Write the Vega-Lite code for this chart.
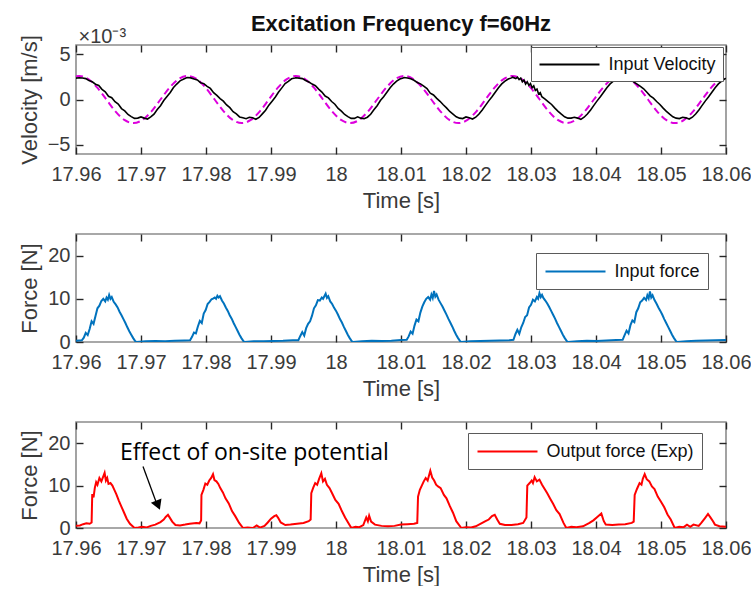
{
  "$schema": "https://vega.github.io/schema/vega-lite/v6.json",
  "background": "white",
  "padding": {"left": 17, "top": 12, "right": 0, "bottom": 0},
  "bounds": "flush",
  "spacing": 80,
  "config": {
    "font": "Liberation Sans",
    "view": {"stroke": "#8c8c8c", "strokeWidth": 1.6},
    "axis": {
      "domain": false, "grid": false, "ticks": true, "tickSize": -7, "tickColor": "#262626", "tickWidth": 1.4, "zindex": 1,
      "labelFlush": false, "labelOverlap": false,
      "labelFont": "Liberation Sans", "labelFontSize": 20, "labelColor": "#3a3a3a",
      "titleFont": "Liberation Sans", "titleFontSize": 22, "titleFontWeight": "normal", "titleColor": "#3a3a3a"
    },
    "legend": {
      "orient": "none", "strokeColor": "#5a5a5a", "fillColor": "white", "padding": 6,
      "symbolType": "M-1,0H5.667", "symbolSize": 324, "symbolStrokeWidth": 2.2, "labelOffset": 49.5,
      "labelFont": "Liberation Sans", "labelFontSize": 18, "labelColor": "#111111",
      "cornerRadius": 0
    }
  },
  "datasets": {
    "vel": [
      {"t":17.96,"v":2.35},
      {"t":17.9605,"v":2.40},{"t":17.961,"v":2.36},{"t":17.9615,"v":2.30},{"t":17.962,"v":2.08},{"t":17.9625,"v":1.95},{"t":17.963,"v":1.68},{"t":17.9635,"v":1.55},{"t":17.964,"v":1.12},{"t":17.9645,"v":0.85},{"t":17.965,"v":0.35},{"t":17.9655,"v":0.20},{"t":17.966,"v":-0.25},{"t":17.9665,"v":-0.50},{"t":17.967,"v":-1.00},{"t":17.9675,"v":-1.25},{"t":17.968,"v":-1.65},{"t":17.9685,"v":-1.88},{"t":17.969,"v":-2.08},{"t":17.9695,"v":-2.05},{"t":17.97,"v":-1.92},{"t":17.9705,"v":-2.05},{"t":17.971,"v":-2.15},{"t":17.9715,"v":-1.92},{"t":17.972,"v":-1.62},{"t":17.9725,"v":-1.10},{"t":17.973,"v":-0.68},{"t":17.9735,"v":-0.12},{"t":17.974,"v":0.32},{"t":17.9745,"v":0.78},{"t":17.975,"v":1.32},{"t":17.9755,"v":1.70},{"t":17.976,"v":2.05},{"t":17.9765,"v":2.22},{"t":17.977,"v":2.40},
      {"t":17.97717,"v":2.42},{"t":17.97767,"v":2.38},{"t":17.97817,"v":2.25},{"t":17.97867,"v":2.15},{"t":17.97917,"v":1.85},{"t":17.97967,"v":1.75},{"t":17.98017,"v":1.45},{"t":17.98067,"v":1.22},{"t":17.98117,"v":0.75},{"t":17.98167,"v":0.45},{"t":17.98217,"v":0.10},{"t":17.98267,"v":-0.18},{"t":17.98317,"v":-0.60},{"t":17.98367,"v":-0.90},{"t":17.98417,"v":-1.35},{"t":17.98467,"v":-1.58},{"t":17.98517,"v":-1.92},{"t":17.98567,"v":-2.02},{"t":17.98617,"v":-2.12},{"t":17.98667,"v":-1.96},{"t":17.98717,"v":-2.00},{"t":17.98767,"v":-2.18},{"t":17.98817,"v":-1.98},{"t":17.98867,"v":-1.58},{"t":17.98917,"v":-1.18},{"t":17.98967,"v":-0.62},{"t":17.99017,"v":-0.18},{"t":17.99067,"v":0.28},{"t":17.99117,"v":0.82},{"t":17.99167,"v":1.28},{"t":17.99217,"v":1.75},{"t":17.99267,"v":2.00},{"t":17.99317,"v":2.28},{"t":17.99367,"v":2.36},
      {"t":17.99383,"v":2.40},{"t":17.99433,"v":2.35},{"t":17.99483,"v":2.30},{"t":17.99533,"v":2.10},{"t":17.99583,"v":1.92},{"t":17.99633,"v":1.70},{"t":17.99683,"v":1.52},{"t":17.99733,"v":1.15},{"t":17.99783,"v":0.82},{"t":17.99833,"v":0.38},{"t":17.99883,"v":0.18},{"t":17.99933,"v":-0.22},{"t":17.99983,"v":-0.52},{"t":18.00033,"v":-0.98},{"t":18.00083,"v":-1.28},{"t":18.00133,"v":-1.65},{"t":18.00183,"v":-1.88},{"t":18.00233,"v":-2.08},{"t":18.00283,"v":-2.08},{"t":18.00333,"v":-1.90},{"t":18.00383,"v":-2.05},{"t":18.00433,"v":-2.12},{"t":18.00483,"v":-1.95},{"t":18.00533,"v":-1.62},{"t":18.00583,"v":-1.12},{"t":18.00633,"v":-0.68},{"t":18.00683,"v":-0.12},{"t":18.00733,"v":0.30},{"t":18.00783,"v":0.80},{"t":18.00833,"v":1.30},{"t":18.00883,"v":1.70},{"t":18.00933,"v":2.02},{"t":18.00983,"v":2.25},{"t":18.01033,"v":2.38},
      {"t":18.0105,"v":2.42},{"t":18.011,"v":2.36},{"t":18.0115,"v":2.28},{"t":18.012,"v":2.12},{"t":18.0125,"v":1.88},{"t":18.013,"v":1.72},{"t":18.0135,"v":1.48},{"t":18.014,"v":1.20},{"t":18.0145,"v":0.70},{"t":18.015,"v":0.50},{"t":18.0155,"v":0.12},{"t":18.016,"v":-0.20},{"t":18.0165,"v":-0.58},{"t":18.017,"v":-0.92},{"t":18.0175,"v":-1.32},{"t":18.018,"v":-1.60},{"t":18.0185,"v":-1.90},{"t":18.019,"v":-2.05},{"t":18.0195,"v":-2.10},{"t":18.02,"v":-1.92},{"t":18.0205,"v":-2.00},{"t":18.021,"v":-2.15},{"t":18.0215,"v":-1.95},{"t":18.022,"v":-1.60},{"t":18.0225,"v":-1.15},{"t":18.023,"v":-0.65},{"t":18.0235,"v":-0.15},{"t":18.024,"v":0.30},{"t":18.0245,"v":0.80},{"t":18.025,"v":1.30},{"t":18.0255,"v":1.72},{"t":18.026,"v":2.02},{"t":18.0265,"v":2.25},{"t":18.027,"v":2.38},
      {"t":18.02717,"v":2.45},{"t":18.02767,"v":2.30},{"t":18.02792,"v":2.45},{"t":18.02817,"v":2.20},{"t":18.02842,"v":2.35},{"t":18.02867,"v":1.95},{"t":18.02892,"v":2.15},{"t":18.02917,"v":1.70},{"t":18.02942,"v":1.95},{"t":18.02967,"v":1.55},{"t":18.02992,"v":1.75},{"t":18.03017,"v":1.30},{"t":18.03042,"v":1.50},{"t":18.03067,"v":1.00},{"t":18.03092,"v":1.15},{"t":18.03117,"v":0.60},{"t":18.03142,"v":0.75},{"t":18.03167,"v":0.30},{"t":18.03217,"v":0.05},{"t":18.03267,"v":-0.25},{"t":18.03317,"v":-0.55},{"t":18.03367,"v":-0.95},{"t":18.03417,"v":-1.30},{"t":18.03467,"v":-1.62},{"t":18.03517,"v":-1.90},{"t":18.03567,"v":-2.05},{"t":18.03617,"v":-2.05},{"t":18.03667,"v":-1.95},{"t":18.03717,"v":-2.05},{"t":18.03767,"v":-2.18},{"t":18.03817,"v":-1.95},{"t":18.03867,"v":-1.60},{"t":18.03917,"v":-1.15},{"t":18.03967,"v":-0.65},{"t":18.04017,"v":-0.15},{"t":18.04067,"v":0.30},{"t":18.04117,"v":0.80},{"t":18.04167,"v":1.30},{"t":18.04217,"v":1.72},{"t":18.04267,"v":2.02},{"t":18.04317,"v":2.22},{"t":18.04367,"v":2.30},
      {"t":18.04383,"v":2.32},{"t":18.04433,"v":2.30},{"t":18.04483,"v":2.28},{"t":18.04533,"v":2.18},{"t":18.04583,"v":1.92},{"t":18.04633,"v":1.70},{"t":18.04683,"v":1.45},{"t":18.04733,"v":1.18},{"t":18.04783,"v":0.80},{"t":18.04833,"v":0.40},{"t":18.04883,"v":0.15},{"t":18.04933,"v":-0.22},{"t":18.04983,"v":-0.55},{"t":18.05033,"v":-0.95},{"t":18.05083,"v":-1.30},{"t":18.05133,"v":-1.62},{"t":18.05183,"v":-1.90},{"t":18.05233,"v":-2.05},{"t":18.05283,"v":-2.10},{"t":18.05333,"v":-1.95},{"t":18.05383,"v":-2.02},{"t":18.05433,"v":-2.15},{"t":18.05483,"v":-1.95},{"t":18.05533,"v":-1.60},{"t":18.05583,"v":-1.15},{"t":18.05633,"v":-0.65},{"t":18.05683,"v":-0.15},{"t":18.05733,"v":0.30},{"t":18.05783,"v":0.80},{"t":18.05833,"v":1.30},{"t":18.05883,"v":1.72},{"t":18.05933,"v":2.02},{"t":18.05983,"v":2.28},{"t":18.06,"v":2.32}
    ],
    "mag": [
      {"t":17.96,"v":2.55},{"t":17.9605,"v":2.6},{"t":17.96189,"v":2.25},{"t":17.96328,"v":1.3},{"t":17.96467,"v":0},{"t":17.96606,"v":-1.3},{"t":17.96744,"v":-2.25},{"t":17.96883,"v":-2.6},{"t":17.97022,"v":-2.25},{"t":17.97161,"v":-1.3},{"t":17.973,"v":0},{"t":17.97439,"v":1.3},{"t":17.97578,"v":2.25},
      {"t":17.97717,"v":2.6},{"t":17.97856,"v":2.25},{"t":17.97994,"v":1.3},{"t":17.98133,"v":0},{"t":17.98272,"v":-1.3},{"t":17.98411,"v":-2.25},{"t":17.9855,"v":-2.6},{"t":17.98689,"v":-2.25},{"t":17.98828,"v":-1.3},{"t":17.98967,"v":0},{"t":17.99106,"v":1.3},{"t":17.99244,"v":2.25},
      {"t":17.99383,"v":2.6},{"t":17.99522,"v":2.25},{"t":17.99661,"v":1.3},{"t":17.998,"v":0},{"t":17.99939,"v":-1.3},{"t":18.00078,"v":-2.25},{"t":18.00217,"v":-2.6},{"t":18.00356,"v":-2.25},{"t":18.00494,"v":-1.3},{"t":18.00633,"v":0},{"t":18.00772,"v":1.3},{"t":18.00911,"v":2.25},
      {"t":18.0105,"v":2.6},{"t":18.01189,"v":2.25},{"t":18.01328,"v":1.3},{"t":18.01467,"v":0},{"t":18.01606,"v":-1.3},{"t":18.01744,"v":-2.25},{"t":18.01883,"v":-2.6},{"t":18.02022,"v":-2.25},{"t":18.02161,"v":-1.3},{"t":18.023,"v":0},{"t":18.02439,"v":1.3},{"t":18.02578,"v":2.25},
      {"t":18.02717,"v":2.6},{"t":18.02856,"v":2.25},{"t":18.02994,"v":1.3},{"t":18.03133,"v":0},{"t":18.03272,"v":-1.3},{"t":18.03411,"v":-2.25},{"t":18.0355,"v":-2.6},{"t":18.03689,"v":-2.25},{"t":18.03828,"v":-1.3},{"t":18.03967,"v":0},{"t":18.04106,"v":1.3},{"t":18.04244,"v":2.25},
      {"t":18.04383,"v":2.6},{"t":18.04522,"v":2.25},{"t":18.04661,"v":1.3},{"t":18.048,"v":0},{"t":18.04939,"v":-1.3},{"t":18.05078,"v":-2.25},{"t":18.05217,"v":-2.6},{"t":18.05356,"v":-2.25},{"t":18.05494,"v":-1.3},{"t":18.05633,"v":0},{"t":18.05772,"v":1.3},{"t":18.05911,"v":2.25},{"t":18.0605,"v":2.6}
    ],
    "fin": [
      {"t":17.96,"f":0.3},{"t":17.9609,"f":0.4},{"t":17.9612,"f":1.0},{"t":17.9615,"f":2.1},{"t":17.9618,"f":1.6},{"t":17.9621,"f":3.0},{"t":17.9624,"f":4.8},{"t":17.9627,"f":4.2},{"t":17.963,"f":6.0},{"t":17.9633,"f":7.8},{"t":17.9636,"f":8.4},{"t":17.9639,"f":9.5},{"t":17.9642,"f":10.0},{"t":17.9645,"f":9.4},{"t":17.9647,"f":10.3},{"t":17.9649,"f":9.8},{"t":17.9651,"f":10.9},{"t":17.9653,"f":10.0},{"t":17.9655,"f":10.4},{"t":17.9658,"f":9.3},{"t":17.9661,"f":8.7},{"t":17.9664,"f":8.0},{"t":17.9667,"f":7.0},{"t":17.967,"f":6.2},{"t":17.9673,"f":5.3},{"t":17.9676,"f":4.4},{"t":17.9679,"f":3.4},{"t":17.9682,"f":2.5},{"t":17.9685,"f":1.7},{"t":17.9688,"f":0.9},{"t":17.9691,"f":0.2},{"t":17.9693,"f":0.0},{"t":17.9707,"f":0.15},{"t":17.9722,"f":0.25},{"t":17.9737,"f":0.2},{"t":17.9752,"f":0.3},{"t":17.9767,"f":0.35},
      {"t":17.97755,"f":0.4},{"t":17.97785,"f":1.2},{"t":17.97815,"f":2.2},{"t":17.97845,"f":2.0},{"t":17.97875,"f":3.6},{"t":17.97905,"f":4.9},{"t":17.97935,"f":4.4},{"t":17.97965,"f":6.6},{"t":17.97995,"f":7.4},{"t":17.98025,"f":8.8},{"t":17.98055,"f":9.3},{"t":17.98085,"f":9.9},{"t":17.98115,"f":10.1},{"t":17.98135,"f":10.3},{"t":17.98155,"f":10.0},{"t":17.98175,"f":10.7},{"t":17.98195,"f":10.3},{"t":17.98215,"f":10.6},{"t":17.98245,"f":9.6},{"t":17.98275,"f":8.9},{"t":17.98305,"f":8.0},{"t":17.98335,"f":7.2},{"t":17.98365,"f":6.2},{"t":17.98395,"f":5.4},{"t":17.98425,"f":4.4},{"t":17.98455,"f":3.5},{"t":17.98485,"f":2.6},{"t":17.98515,"f":1.7},{"t":17.98545,"f":0.9},{"t":17.98575,"f":0.2},{"t":17.98595,"f":0.0},{"t":17.98735,"f":0.2},{"t":17.98885,"f":0.15},{"t":17.99035,"f":0.25},{"t":17.99185,"f":0.3},{"t":17.99335,"f":0.4},
      {"t":17.99421,"f":0.4},{"t":17.99451,"f":1.4},{"t":17.99481,"f":2.3},{"t":17.99511,"f":1.5},{"t":17.99541,"f":3.2},{"t":17.99571,"f":4.2},{"t":17.99601,"f":4.8},{"t":17.99631,"f":6.1},{"t":17.99661,"f":7.8},{"t":17.99691,"f":8.5},{"t":17.99721,"f":9.7},{"t":17.99751,"f":9.6},{"t":17.99781,"f":10.3},{"t":17.99801,"f":10.0},{"t":17.99821,"f":10.6},{"t":17.99841,"f":11.2},{"t":17.99861,"f":10.2},{"t":17.99881,"f":10.6},{"t":17.99911,"f":9.4},{"t":17.99941,"f":8.8},{"t":17.99971,"f":7.9},{"t":18.00001,"f":7.2},{"t":18.00031,"f":6.3},{"t":18.00061,"f":5.3},{"t":18.00091,"f":4.5},{"t":18.00121,"f":3.5},{"t":18.00151,"f":2.6},{"t":18.00181,"f":1.7},{"t":18.00211,"f":0.9},{"t":18.00241,"f":0.2},{"t":18.00261,"f":0.0},{"t":18.00401,"f":0.2},{"t":18.00551,"f":0.3},{"t":18.00701,"f":0.25},{"t":18.00851,"f":0.3},{"t":18.01001,"f":0.45},
      {"t":18.01088,"f":0.5},{"t":18.01118,"f":1.3},{"t":18.01148,"f":2.4},{"t":18.01178,"f":1.9},{"t":18.01208,"f":3.8},{"t":18.01238,"f":5.2},{"t":18.01268,"f":4.8},{"t":18.01298,"f":6.8},{"t":18.01328,"f":8.2},{"t":18.01358,"f":9.2},{"t":18.01388,"f":10.0},{"t":18.01418,"f":10.4},{"t":18.01448,"f":9.8},{"t":18.01468,"f":11.0},{"t":18.01488,"f":10.2},{"t":18.01508,"f":11.8},{"t":18.01528,"f":10.5},{"t":18.01548,"f":11.0},{"t":18.01578,"f":9.8},{"t":18.01608,"f":9.0},{"t":18.01638,"f":8.2},{"t":18.01668,"f":7.3},{"t":18.01698,"f":6.4},{"t":18.01728,"f":5.4},{"t":18.01758,"f":4.5},{"t":18.01788,"f":3.6},{"t":18.01818,"f":2.6},{"t":18.01848,"f":1.7},{"t":18.01878,"f":0.9},{"t":18.01908,"f":0.2},{"t":18.01928,"f":0.0},{"t":18.02068,"f":0.2},{"t":18.02218,"f":0.25},{"t":18.02368,"f":0.3},{"t":18.02518,"f":0.35},{"t":18.02668,"f":0.4},
      {"t":18.0273,"f":0.5},{"t":18.0276,"f":1.8},{"t":18.0279,"f":2.8},{"t":18.0282,"f":1.9},{"t":18.0285,"f":3.4},{"t":18.0288,"f":4.4},{"t":18.0291,"f":5.8},{"t":18.0294,"f":6.2},{"t":18.0297,"f":8.0},{"t":18.03,"f":8.6},{"t":18.0303,"f":9.8},{"t":18.0306,"f":9.4},{"t":18.0309,"f":10.4},{"t":18.0311,"f":10.0},{"t":18.0313,"f":11.3},{"t":18.0315,"f":10.4},{"t":18.0317,"f":10.9},{"t":18.0319,"f":10.2},{"t":18.0322,"f":9.6},{"t":18.0325,"f":8.9},{"t":18.0328,"f":8.1},{"t":18.0331,"f":7.2},{"t":18.0334,"f":6.3},{"t":18.0337,"f":5.4},{"t":18.034,"f":4.4},{"t":18.0343,"f":3.5},{"t":18.0346,"f":2.6},{"t":18.0349,"f":1.7},{"t":18.0352,"f":0.9},{"t":18.0355,"f":0.2},{"t":18.0357,"f":0.0},{"t":18.0371,"f":0.2},{"t":18.0386,"f":0.3},{"t":18.0401,"f":0.25},{"t":18.0416,"f":0.35},{"t":18.0431,"f":0.45},
      {"t":18.0441,"f":0.5},{"t":18.0444,"f":1.6},{"t":18.0447,"f":2.6},{"t":18.045,"f":2.0},{"t":18.0453,"f":3.9},{"t":18.0456,"f":5.0},{"t":18.0459,"f":4.6},{"t":18.0462,"f":6.9},{"t":18.0465,"f":7.8},{"t":18.0468,"f":9.2},{"t":18.0471,"f":9.6},{"t":18.0474,"f":10.2},{"t":18.0477,"f":9.7},{"t":18.0479,"f":10.8},{"t":18.0481,"f":10.1},{"t":18.0483,"f":11.7},{"t":18.0485,"f":10.3},{"t":18.0487,"f":10.8},{"t":18.049,"f":9.7},{"t":18.0493,"f":8.9},{"t":18.0496,"f":8.0},{"t":18.0499,"f":7.2},{"t":18.0502,"f":6.3},{"t":18.0505,"f":5.3},{"t":18.0508,"f":4.4},{"t":18.0511,"f":3.5},{"t":18.0514,"f":2.6},{"t":18.0517,"f":1.7},{"t":18.052,"f":0.9},{"t":18.0523,"f":0.2},{"t":18.0525,"f":0.0},{"t":18.0539,"f":0.2},{"t":18.0554,"f":0.3},{"t":18.0569,"f":0.35},{"t":18.0584,"f":0.4},{"t":18.06,"f":0.45}
    ],
    "fout": [
      {"t":17.96,"f":0.5},{"t":17.9606,"f":0.6},{"t":17.9611,"f":0.9},{"t":17.9616,"f":1.1},{"t":17.9621,"f":1.0},{"t":17.9624,"f":1.3},{"t":17.9625,"f":8.0},{"t":17.9627,"f":7.2},{"t":17.9629,"f":9.5},{"t":17.9631,"f":10.8},{"t":17.9633,"f":10.2},{"t":17.9636,"f":11.8},{"t":17.9639,"f":11.0},{"t":17.9642,"f":12.2},{"t":17.9644,"f":13.0},{"t":17.9646,"f":11.2},{"t":17.9648,"f":11.8},{"t":17.965,"f":10.4},{"t":17.9653,"f":10.6},{"t":17.9656,"f":10.0},{"t":17.9659,"f":9.0},{"t":17.9662,"f":8.0},{"t":17.9666,"f":6.4},{"t":17.967,"f":5.0},{"t":17.9674,"f":3.6},{"t":17.9678,"f":2.2},{"t":17.9683,"f":1.0},{"t":17.969,"f":0.0},{"t":17.9696,"f":0.1},{"t":17.9702,"f":0.3},{"t":17.9708,"f":0.1},{"t":17.9715,"f":0.5},{"t":17.9722,"f":0.8},{"t":17.973,"f":1.4},{"t":17.9735,"f":2.0},{"t":17.9738,"f":2.6},{"t":17.97415,"f":3.1},{"t":17.9744,"f":2.5},{"t":17.9748,"f":1.5},{"t":17.9753,"f":0.7},{"t":17.976,"f":0.6},{"t":17.9768,"f":0.8},{"t":17.9775,"f":1.0},{"t":17.9785,"f":1.2},{"t":17.979,"f":1.1},{"t":17.97925,"f":1.8},
      {"t":17.9793,"f":7.8},{"t":17.9796,"f":9.0},{"t":17.9799,"f":10.5},{"t":17.9802,"f":10.2},{"t":17.9805,"f":11.2},{"t":17.9808,"f":11.8},{"t":17.98108,"f":12.7},{"t":17.9813,"f":11.3},{"t":17.9816,"f":11.0},{"t":17.9819,"f":10.4},{"t":17.9822,"f":9.4},{"t":17.9826,"f":8.4},{"t":17.983,"f":7.0},{"t":17.9835,"f":5.8},{"t":17.984,"f":4.0},{"t":17.9845,"f":2.8},{"t":17.9851,"f":1.2},{"t":17.9857,"f":0.0},{"t":17.9864,"f":0.1},{"t":17.9872,"f":0.0},{"t":17.9878,"f":0.6},{"t":17.9883,"f":0.1},{"t":17.989,"f":0.5},{"t":17.9895,"f":1.3},{"t":17.99,"f":2.2},{"t":17.9905,"f":2.8},{"t":17.99082,"f":3.0},{"t":17.9911,"f":2.4},{"t":17.9915,"f":1.3},{"t":17.9922,"f":0.7},{"t":17.993,"f":0.8},{"t":17.994,"f":1.0},{"t":17.995,"f":1.2},{"t":17.9958,"f":1.6},{"t":17.9961,"f":2.0},
      {"t":17.9962,"f":8.2},{"t":17.9965,"f":9.5},{"t":17.9968,"f":10.6},{"t":17.9971,"f":10.2},{"t":17.9974,"f":11.6},{"t":17.99774,"f":12.9},{"t":17.998,"f":11.0},{"t":17.9983,"f":11.6},{"t":17.9986,"f":10.2},{"t":17.999,"f":9.4},{"t":17.9994,"f":8.2},{"t":17.9999,"f":6.6},{"t":18.0004,"f":5.7},{"t":18.0009,"f":4.0},{"t":18.0014,"f":2.5},{"t":18.0019,"f":1.2},{"t":18.00236,"f":0.0},{"t":18.003,"f":0.3},{"t":18.0036,"f":0.2},{"t":18.0042,"f":0.7},{"t":18.00465,"f":2.5},{"t":18.0049,"f":1.6},{"t":18.0051,"f":2.9},{"t":18.0054,"f":1.5},{"t":18.006,"f":0.8},{"t":18.007,"f":0.5},{"t":18.008,"f":0.4},{"t":18.009,"f":0.5},{"t":18.01,"f":0.8},{"t":18.011,"f":0.9},{"t":18.012,"f":1.0},{"t":18.0125,"f":1.2},
      {"t":18.01262,"f":7.4},{"t":18.0129,"f":9.0},{"t":18.0132,"f":10.0},{"t":18.0135,"f":11.0},{"t":18.0138,"f":11.8},{"t":18.0141,"f":11.2},{"t":18.01451,"f":13.5},{"t":18.0148,"f":11.9},{"t":18.0151,"f":11.2},{"t":18.0154,"f":10.2},{"t":18.0157,"f":9.8},{"t":18.0161,"f":9.4},{"t":18.0166,"f":7.8},{"t":18.017,"f":7.0},{"t":18.0175,"f":5.2},{"t":18.018,"f":3.6},{"t":18.0185,"f":1.6},{"t":18.01928,"f":0.0},{"t":18.02,"f":0.2},{"t":18.0208,"f":0.1},{"t":18.0215,"f":0.4},{"t":18.0225,"f":1.2},{"t":18.023,"f":1.6},{"t":18.0235,"f":2.0},{"t":18.024,"f":2.8},{"t":18.02442,"f":3.1},{"t":18.0248,"f":2.0},{"t":18.0252,"f":1.0},{"t":18.026,"f":0.7},{"t":18.027,"f":0.7},{"t":18.028,"f":0.9},{"t":18.0288,"f":1.2},{"t":18.0293,"f":2.5},
      {"t":18.02943,"f":10.0},{"t":18.0298,"f":10.6},{"t":18.0301,"f":11.2},{"t":18.0303,"f":10.6},{"t":18.03056,"f":12.0},{"t":18.0309,"f":11.0},{"t":18.0313,"f":11.4},{"t":18.0317,"f":10.2},{"t":18.0321,"f":9.2},{"t":18.0325,"f":8.2},{"t":18.033,"f":6.8},{"t":18.0334,"f":5.7},{"t":18.0339,"f":4.2},{"t":18.0344,"f":3.3},{"t":18.035,"f":1.2},{"t":18.03543,"f":0.0},{"t":18.0362,"f":0.3},{"t":18.037,"f":0.2},{"t":18.038,"f":0.4},{"t":18.039,"f":1.2},{"t":18.0396,"f":1.8},{"t":18.0402,"f":2.6},{"t":18.04082,"f":3.4},{"t":18.0412,"f":1.6},{"t":18.0415,"f":0.8},{"t":18.0425,"f":0.7},{"t":18.0435,"f":0.8},{"t":18.0445,"f":0.9},{"t":18.0455,"f":1.2},{"t":18.0458,"f":1.5},
      {"t":18.04595,"f":7.8},{"t":18.0463,"f":9.2},{"t":18.0467,"f":10.6},{"t":18.047,"f":10.2},{"t":18.0472,"f":11.6},{"t":18.04749,"f":12.7},{"t":18.0478,"f":11.5},{"t":18.0482,"f":11.0},{"t":18.0486,"f":9.8},{"t":18.049,"f":9.2},{"t":18.0495,"f":7.4},{"t":18.05,"f":6.2},{"t":18.0505,"f":4.9},{"t":18.051,"f":3.2},{"t":18.0515,"f":2.0},{"t":18.05211,"f":0.0},{"t":18.0528,"f":0.3},{"t":18.0535,"f":0.2},{"t":18.054,"f":0.8},{"t":18.0545,"f":0.3},{"t":18.055,"f":0.8},{"t":18.0558,"f":0.5},{"t":18.0562,"f":1.2},{"t":18.0568,"f":2.4},{"t":18.05723,"f":3.3},{"t":18.0576,"f":2.5},{"t":18.058,"f":1.6},{"t":18.0583,"f":0.8},{"t":18.059,"f":0.4},{"t":18.06,"f":0.3}
    ],
    "note": [
      {"t":17.98746,"f":17.7,"label":"Effect of on-site potential","t2":17.97231,"f2":6.2,"t0":17.97031,"f0":14.5,"th":17.97262,"fh":5.4}
    ]
  },
  "vconcat": [
    {
      "width": 650, "height": 109,
      "title": {"text": "Excitation Frequency f=60Hz", "fontSize": 22, "fontWeight": "bold", "color": "#111111", "font": "Liberation Sans", "anchor": "middle", "offset": -10},
      "layer": [
        {
          "data": {"name": "mag"},
          "mark": {"type": "line", "color": "#dd00dd", "strokeWidth": 2, "strokeDash": [7, 4], "interpolate": "monotone", "clip": true},
          "encoding": {
            "x": {"field": "t", "type": "quantitative", "scale": {"domain": [17.96, 18.06], "nice": false, "zero": false},
                  "axis": {"orient": "bottom", "values": [17.96,17.97,17.98,17.99,18,18.01,18.02,18.03,18.04,18.05,18.06], "format": "~g", "labelPadding": 17, "title": "Time [s]", "titlePadding": 6}},
            "y": {"field": "v", "type": "quantitative", "scale": {"domain": [-6, 6], "nice": false, "zero": false},
                  "axis": {"orient": "left", "values": [-5, 0, 5], "labelPadding": 13, "title": "Velocity [m/s]", "titlePadding": 6}}
          }
        },
        {
          "data": {"name": "vel"},
          "mark": {"type": "line", "strokeWidth": 1.6, "clip": true},
          "encoding": {
            "x": {"field": "t", "type": "quantitative", "scale": {"domain": [17.96, 18.06], "nice": false, "zero": false},
                  "axis": {"orient": "top", "values": [17.96,17.97,17.98,17.99,18,18.01,18.02,18.03,18.04,18.05,18.06], "labels": false,
                           "title": "×10⁻³", "titleFontSize": 20, "titleAnchor": "start", "titleAlign": "left", "titleAngle": 0, "titleBaseline": "alphabetic", "titleX": 2, "titleY": -3}},
            "y": {"field": "v", "type": "quantitative", "scale": {"domain": [-6, 6], "nice": false, "zero": false},
                  "axis": {"orient": "right", "values": [-5, 0, 5], "labels": false, "title": null}},
            "color": {"datum": "Input Velocity", "type": "nominal", "scale": {"domain": ["Input Velocity"], "range": ["#000000"]},
                      "legend": {"title": null, "legendX": 455, "legendY": 2, "padding": 7}}
          }
        }
      ],
      "resolve": {"axis": {"x": "independent", "y": "independent"}}
    },
    {
      "width": 650, "height": 108,
      "layer": [
        {
          "data": {"name": "fin"},
          "mark": {"type": "line", "strokeWidth": 2, "clip": true},
          "encoding": {
            "x": {"field": "t", "type": "quantitative", "scale": {"domain": [17.96, 18.06], "nice": false, "zero": false},
                  "axis": {"orient": "bottom", "values": [17.96,17.97,17.98,17.99,18,18.01,18.02,18.03,18.04,18.05,18.06], "format": "~g", "labelPadding": 17, "title": "Time [s]", "titlePadding": 6}},
            "y": {"field": "f", "type": "quantitative", "scale": {"domain": [0, 25], "nice": false},
                  "axis": {"orient": "left", "values": [0, 10, 20], "labelPadding": 13, "title": "Force [N]", "titlePadding": 6}},
            "color": {"datum": "Input force", "type": "nominal", "scale": {"domain": ["Input force"], "range": ["#0072BD"]},
                      "legend": {"title": null, "legendX": 460, "legendY": 19, "padding": 8}}
          }
        },
        {
          "data": {"values": [{"t": 17.96, "f": 0}]},
          "mark": {"type": "point", "opacity": 0},
          "encoding": {
            "x": {"field": "t", "type": "quantitative", "scale": {"domain": [17.96, 18.06], "nice": false, "zero": false},
                  "axis": {"orient": "top", "values": [17.96,17.97,17.98,17.99,18,18.01,18.02,18.03,18.04,18.05,18.06], "labels": false, "title": null}},
            "y": {"field": "f", "type": "quantitative", "scale": {"domain": [0, 25], "nice": false},
                  "axis": {"orient": "right", "values": [0, 10, 20], "labels": false, "title": null}}
          }
        }
      ],
      "resolve": {"axis": {"x": "independent", "y": "independent"}}
    },
    {
      "width": 650, "height": 106,
      "layer": [
        {
          "data": {"name": "fout"},
          "mark": {"type": "line", "strokeWidth": 2, "clip": true},
          "encoding": {
            "x": {"field": "t", "type": "quantitative", "scale": {"domain": [17.96, 18.06], "nice": false, "zero": false},
                  "axis": {"orient": "bottom", "values": [17.96,17.97,17.98,17.99,18,18.01,18.02,18.03,18.04,18.05,18.06], "format": "~g", "labelPadding": 17, "title": "Time [s]", "titlePadding": 6}},
            "y": {"field": "f", "type": "quantitative", "scale": {"domain": [0, 25], "nice": false},
                  "axis": {"orient": "left", "values": [0, 10, 20], "labelPadding": 13, "title": "Force [N]", "titlePadding": 6}},
            "color": {"datum": "Output force (Exp)", "type": "nominal", "scale": {"domain": ["Output force (Exp)"], "range": ["#FF0000"]},
                      "legend": {"title": null, "legendX": 392, "legendY": 11, "padding": 8}}
          }
        },
        {
          "data": {"values": [{"t": 17.96, "f": 0}]},
          "mark": {"type": "point", "opacity": 0},
          "encoding": {
            "x": {"field": "t", "type": "quantitative", "scale": {"domain": [17.96, 18.06], "nice": false, "zero": false},
                  "axis": {"orient": "top", "values": [17.96,17.97,17.98,17.99,18,18.01,18.02,18.03,18.04,18.05,18.06], "labels": false, "title": null}},
            "y": {"field": "f", "type": "quantitative", "scale": {"domain": [0, 25], "nice": false},
                  "axis": {"orient": "right", "values": [0, 10, 20], "labels": false, "title": null}}
          }
        },
        {
          "data": {"name": "note"},
          "mark": {"type": "text", "font": "Open Sans", "fontSize": 23, "color": "#000000", "align": "center", "baseline": "middle"},
          "encoding": {
            "x": {"field": "t", "type": "quantitative", "axis": null},
            "y": {"field": "f", "type": "quantitative", "axis": null},
            "text": {"field": "label"}
          }
        },
        {
          "data": {"name": "note"},
          "mark": {"type": "rule", "color": "#000000", "strokeWidth": 1.3},
          "encoding": {
            "x": {"field": "t0", "type": "quantitative", "axis": null},
            "y": {"field": "f0", "type": "quantitative", "axis": null},
            "x2": {"field": "t2"},
            "y2": {"field": "f2"}
          }
        },
        {
          "data": {"name": "note"},
          "mark": {"type": "point", "shape": "triangle-down", "filled": true, "color": "#000000", "size": 130, "angle": 338, "opacity": 1},
          "encoding": {
            "x": {"field": "th", "type": "quantitative", "axis": null},
            "y": {"field": "fh", "type": "quantitative", "axis": null}
          }
        }
      ],
      "resolve": {"axis": {"x": "independent", "y": "independent"}}
    }
  ],
  "resolve": {"scale": {"x": "independent", "y": "independent", "color": "independent"}, "legend": {"color": "independent"}}
}
